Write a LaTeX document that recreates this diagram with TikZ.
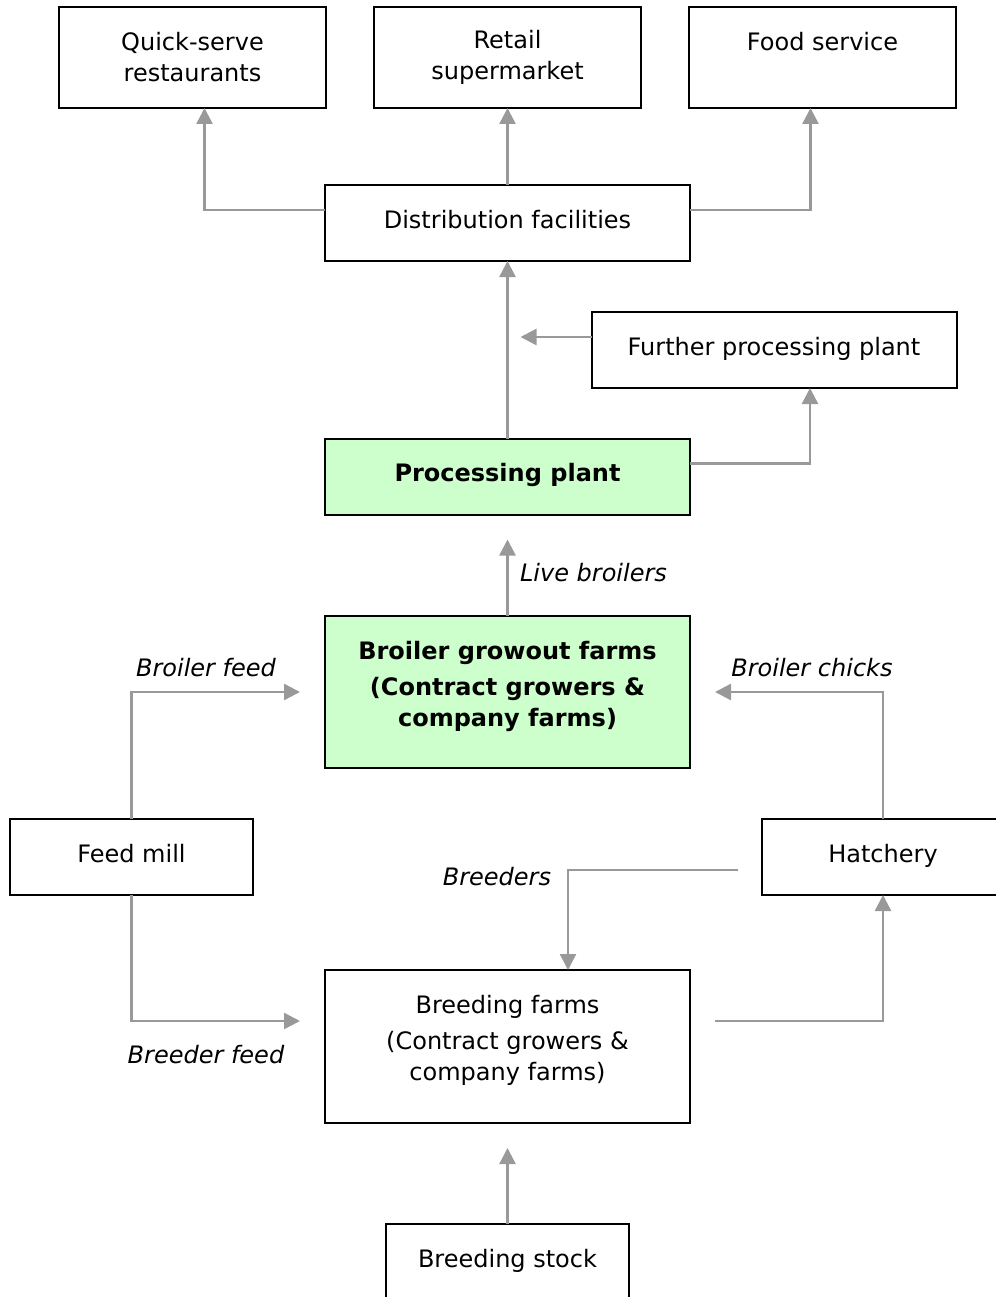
\documentclass[tikz,border=0pt]{standalone}
\usepackage{fontspec}
\setmainfont{DejaVu Sans}
\usetikzlibrary{arrows.meta}

\tikzset{
	box/.style={draw, line width=2pt, inner sep=0pt, outer sep=0pt, align=center, font=\fontsize{24}{31}\selectfont},
	oneline/.style={text height=17.5pt, text depth=7pt},
	wide/.style={box, minimum width=365pt, minimum height=76pt},
	green/.style={fill=green!20!white, font=\fontsize{24}{31}\selectfont\bfseries},
	flow/.style={draw=gray!80, line width=2.5pt, -{Triangle[length=16pt,width=16pt]}},
	lbl/.style={inner sep=0pt, font=\fontsize{24}{31}\selectfont\itshape}
}

\begin{document}
\begin{tikzpicture}[x=1pt, y=-1pt]
	\useasboundingbox (0,0) rectangle (995,1297);

	\node[box, minimum width=267pt, minimum height=101pt] (qsr) at (192.5,57.5) {Quick-serve\\restaurants};
	\node[box, minimum width=267pt, minimum height=101pt] (retail) at (507.5,57.5) {Retail\\supermarket};
	\node[box, minimum width=267pt, minimum height=101pt] (food) at (822.5,57.5) {Food service\\\rule[-1pt]{0pt}{1pt}};
	\node[wide, oneline] (dist) at (507.5,223) {Distribution facilities};
	\node[wide, oneline] (further) at (774,350) {Further processing plant};
	\node[wide, oneline, green] (proc) at (507.5,476.5) {Processing plant};
	\node[wide, green, minimum height=152pt] (grow) at (507.5,692) {Broiler growout farms\\[5pt](Contract growers \&\\company farms)\rule[-17pt]{0pt}{1pt}};
	\node[box, oneline, minimum width=243pt, minimum height=76pt] (feed) at (131.5,857) {Feed mill};
	\node[box, oneline, minimum width=242pt, minimum height=76pt] (hatch) at (883,857) {Hatchery};
	\node[wide, minimum height=153pt] (breed) at (507.5,1046.5) {Breeding farms\\[5pt](Contract growers \&\\company farms)\rule[-17pt]{0pt}{1pt}};
	\node[box, oneline, minimum width=243pt, minimum height=76pt] (stock) at (507.5,1262) {Breeding stock};

	\node[lbl] (livelbl) at (593.5,573) {Live broilers};
	\node[lbl] (feedlbl) at (206,668) {Broiler feed};
	\node[lbl] (chicklbl) at (812,668) {Broiler chicks};
	\node[lbl] (breederlbl) at (497,877) {Breeders};
	\node[lbl] (bfeedlbl) at (206,1055) {Breeder feed};

	% distribution
	\draw[flow] ([yshift=13pt]dist.west) -| ([xshift=12pt]qsr.south);
	\draw[flow] (dist.north) -- (retail.south);
	\draw[flow] ([yshift=13pt]dist.east) -| ([xshift=-12pt]food.south);
	% processing
	\draw[flow] (proc.north) -- (dist.south);
	\draw[flow, shorten >=13pt] ([yshift=13pt]further.west) -- ([yshift=13pt]further.west -| proc.north);
	\draw[flow] ([yshift=13pt]proc.east) -| ([xshift=36pt]further.south);
	\draw[flow, shorten >=25pt] (grow.north) -- (proc.south);
	% farms
	\draw[flow, shorten >=25pt] (feed.north) |- (grow.west);
	\draw[flow, shorten >=25pt] (hatch.north) |- (grow.east);
	\draw[flow, shorten <=24pt] ([yshift=-13pt]hatch.west) -| ([xshift=60.5pt]breed.north);
	\draw[flow, shorten >=25pt] (feed.south) |- ([yshift=25.5pt]breed.west);
	\draw[flow, shorten <=25pt] ([yshift=25.5pt]breed.east) -| (hatch.south);
	\draw[flow, shorten >=25pt] (stock.north) -- (breed.south);
\end{tikzpicture}
\end{document}
